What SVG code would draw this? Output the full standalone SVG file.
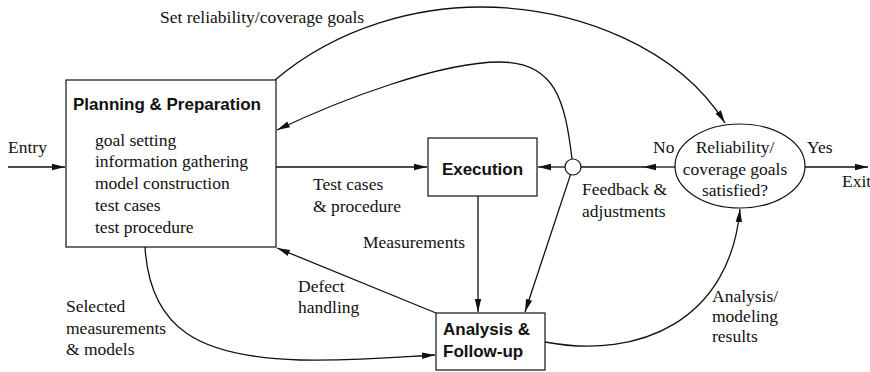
<svg xmlns="http://www.w3.org/2000/svg" width="870" height="372" viewBox="0 0 870 372">
  <style>
    .box { fill: #fff; stroke: #111; stroke-width: 1.2; }
    .line { fill: none; stroke: #111; stroke-width: 1.3; }
    .title { font-family: "Liberation Sans", Arial, sans-serif; font-weight: bold; font-size: 17px; fill: #111; }
    .lbl { font-family: "Liberation Serif", "Times New Roman", serif; font-size: 17.5px; fill: #111; }
  </style>
  <defs>
    <marker id="arr" markerUnits="userSpaceOnUse" markerWidth="14" markerHeight="10" viewBox="0 0 14 10" refX="13" refY="5" orient="auto">
      <path d="M0,1.8 L13,5 L0,8.2 Z" fill="#111"/>
    </marker>
  </defs>
  <rect width="870" height="372" fill="#fff"/>

  <g id="connectors">
    <line class="line" x1="8" y1="167" x2="65" y2="167" marker-end="url(#arr)"/>
    <line class="line" x1="276" y1="167" x2="427" y2="167" marker-end="url(#arr)"/>
    <line class="line" x1="565" y1="167" x2="538" y2="167" marker-end="url(#arr)"/>
    <line class="line" x1="675" y1="167" x2="643" y2="167" marker-end="url(#arr)"/>
    <line class="line" x1="644" y1="167" x2="581" y2="167"/>
    <line class="line" x1="805" y1="167" x2="868" y2="167" marker-end="url(#arr)"/>
    <line class="line" x1="478" y1="196" x2="478" y2="312" marker-end="url(#arr)"/>
    <line class="line" x1="570.5" y1="174.6" x2="525" y2="312" marker-end="url(#arr)"/>
    <line class="line" x1="436" y1="313" x2="277" y2="248" marker-end="url(#arr)"/>
    <path class="line" d="M275,80 C340,25 420,7 480,7 C580,7 680,50 725,123" marker-end="url(#arr)"/>
    <path class="line" d="M572,159 C565,100 555,62 500,62 C440,62 340,100 277,130" marker-end="url(#arr)"/>
    <path class="line" d="M145,247 C150,330 200,357 300,360 C360,361 400,357 435,355" marker-end="url(#arr)"/>
    <path class="line" d="M545,342 C640,360 730,320 740,209" marker-end="url(#arr)"/>
  </g>

  <g id="planning">
    <rect class="box" x="66" y="80" width="210" height="167"/>
    <text class="title" x="73" y="110">Planning &amp; Preparation</text>
    <text class="lbl" x="95" y="146">goal setting</text>
    <text class="lbl" x="95" y="167">information gathering</text>
    <text class="lbl" x="95" y="189">model construction</text>
    <text class="lbl" x="95" y="211">test cases</text>
    <text class="lbl" x="95" y="233">test procedure</text>
  </g>

  <g id="execution">
    <rect class="box" x="428" y="138" width="109" height="58"/>
    <text class="title" x="482.5" y="175" text-anchor="middle">Execution</text>
  </g>

  <g id="junction">
    <circle class="box" cx="573" cy="167" r="8"/>
  </g>

  <g id="decision">
    <ellipse class="box" cx="740" cy="166" rx="65" ry="42"/>
    <text class="lbl" x="735" y="153" text-anchor="middle">Reliability/</text>
    <text class="lbl" x="735" y="175" text-anchor="middle">coverage goals</text>
    <text class="lbl" x="735" y="196" text-anchor="middle">satisfied?</text>
  </g>

  <g id="analysis">
    <rect class="box" x="436" y="313" width="109" height="57"/>
    <text class="title" x="443" y="335">Analysis &amp;</text>
    <text class="title" x="443" y="357">Follow-up</text>
  </g>

  <g id="labels">
    <text class="lbl" x="160" y="23">Set reliability/coverage goals</text>
    <text class="lbl" x="8" y="153">Entry</text>
    <text class="lbl" x="313" y="190">Test cases</text>
    <text class="lbl" x="313" y="212">&amp; procedure</text>
    <text class="lbl" x="363" y="248">Measurements</text>
    <text class="lbl" x="298" y="292">Defect</text>
    <text class="lbl" x="298" y="313">handling</text>
    <text class="lbl" x="66" y="312">Selected</text>
    <text class="lbl" x="66" y="334">measurements</text>
    <text class="lbl" x="66" y="355">&amp; models</text>
    <text class="lbl" x="582" y="195">Feedback &amp;</text>
    <text class="lbl" x="582" y="217">adjustments</text>
    <text class="lbl" x="712" y="302">Analysis/</text>
    <text class="lbl" x="712" y="322">modeling</text>
    <text class="lbl" x="712" y="342">results</text>
    <text class="lbl" x="653" y="153">No</text>
    <text class="lbl" x="807" y="153">Yes</text>
    <text class="lbl" x="842" y="187">Exit</text>
  </g>
</svg>
